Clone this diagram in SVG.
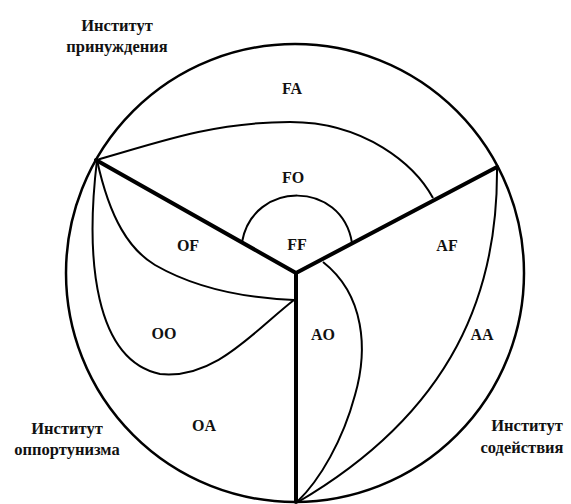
<svg xmlns="http://www.w3.org/2000/svg" width="571" height="504" viewBox="0 0 571 504">
<style>
.thin{fill:none;stroke:#000;stroke-width:2}
.thick{fill:none;stroke:#000;stroke-width:4;stroke-linecap:round;stroke-linejoin:round}
.circ{fill:none;stroke:#000;stroke-width:2.5}
.lbl{font-family:"Liberation Serif",serif;font-weight:bold;font-size:16px;text-anchor:middle;fill:#111}
.inst{font-family:"Liberation Serif",serif;font-weight:bold;font-size:16.5px;text-anchor:middle;fill:#111}
</style>
<rect width="571" height="504" fill="#fff"/>
<g id="connectors">
<circle class="circ" cx="295" cy="273" r="229"/>
<path class="thin" d="M97,160 C170,138 220,122 290,122 C365,122 415,165 433,198"/>
<path class="thin" d="M242,242 C253,180 342,180 352,243"/>
<path class="thin" d="M97,160 C110,220 130,250 155,265 C195,288 245,298 294,300"/>
<path class="thin" d="M97,160 C85,260 95,360 160,374 C215,380 255,330 294,300"/>
<path class="thin" d="M323,262 C365,295 368,350 355,395 C343,440 320,480 297,502"/>
<path class="thin" d="M497,168 C498,290 455,410 298,502"/>
<path class="thick" d="M96,160 L296,273 L497,167 M296,273 L296,502"/>
</g>
<g id="coercion"><text class="inst" x="117" y="31">Институт</text><text class="inst" x="117" y="52">принуждения</text></g>
<g id="opportunism"><text class="inst" x="67" y="434">Институт</text><text class="inst" x="67" y="455">оппортунизма</text></g>
<g id="assistance"><text class="inst" x="527" y="431">Институт</text><text class="inst" x="522" y="453">содействия</text></g>
<g id="FA"><text class="lbl" x="292" y="94">FA</text></g>
<g id="FO"><text class="lbl" x="293" y="183">FO</text></g>
<g id="FF"><text class="lbl" x="297" y="250">FF</text></g>
<g id="OF"><text class="lbl" x="188" y="251">OF</text></g>
<g id="AF"><text class="lbl" x="447" y="251">AF</text></g>
<g id="OO"><text class="lbl" x="164" y="339">OO</text></g>
<g id="AO"><text class="lbl" x="323" y="340">AO</text></g>
<g id="AA"><text class="lbl" x="482" y="340">AA</text></g>
<g id="OA"><text class="lbl" x="204" y="431">OA</text></g>
</svg>
